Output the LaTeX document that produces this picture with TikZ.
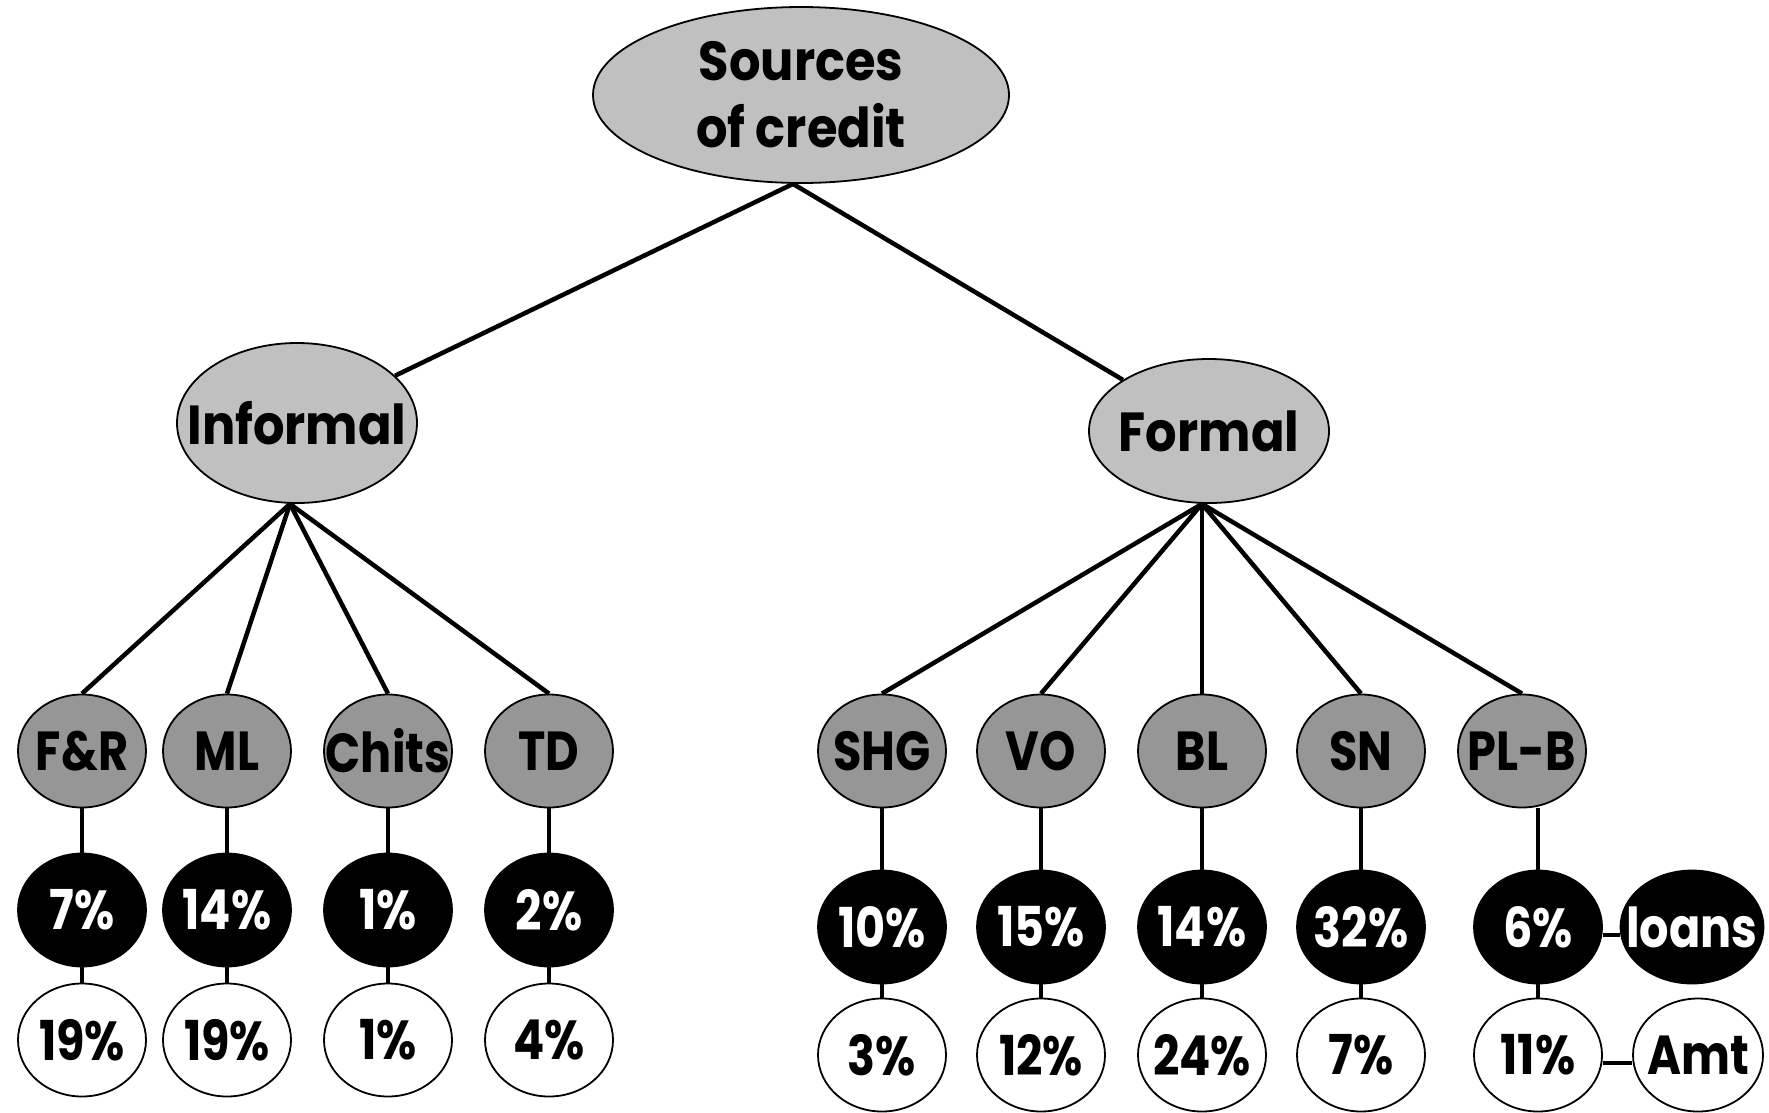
\documentclass[tikz,border=0pt]{standalone}
\usepackage{fontspec}
\setmainfont{Poppins}[FakeStretch=0.9]
\newfontfamily\condfont{Poppins}[FakeStretch=0.84]
\usetikzlibrary{shapes.geometric}
\definecolor{lgray}{HTML}{C0C0C0}
\definecolor{mgray}{HTML}{969696}
\newcommand\ct[1]{\makebox[0pt]{#1}}
\begin{document}
\begin{tikzpicture}[x=1pt,y=-1pt,
  oval/.style={ellipse, draw=black, line width=1.8pt, inner sep=0pt,
    font=\bfseries\fontsize{55}{67}\selectfont},
  topoval/.style={oval, fill=lgray, minimum width=416pt, minimum height=176pt, align=center},
  midoval/.style={oval, fill=lgray, minimum width=240pt},
  leafoval/.style={oval, minimum width=128pt, minimum height=113pt,
    font=\condfont\bfseries\fontsize{55}{60}\selectfont},
  greyoval/.style={leafoval, fill=mgray},
  blackoval/.style={leafoval, fill=black, text=white},
  whiteoval/.style={leafoval, fill=white},
  conn/.style={line width=4.5pt}
]
\useasboundingbox (0,0) rectangle (1769,1112);

% top levels
\node[topoval] (root) at (801,95) {Sources\\of credit};
\node[midoval, minimum height=160pt] (inf) at (297,423) {\ct{Informal}};
\node[midoval, minimum height=144pt] (form) at (1209,431) {\ct{Formal}};

% informal branch
\node[greyoval] (fr) at (82,751) {\ct{F\&R}};
\node[greyoval] (ml) at (227,751) {\ct{ML}};
\node[greyoval] (ch) at (388,751) {\ct{Chits}};
\node[greyoval] (td) at (549,751) {\ct{TD}};
\node[blackoval] (frb) at (82,910) {\ct{7\%}};
\node[blackoval] (mlb) at (227,910) {\ct{14\%}};
\node[blackoval] (chb) at (388,910) {\ct{1\%}};
\node[blackoval] (tdb) at (549,910) {\ct{2\%}};
\node[whiteoval] (frw) at (82,1040) {\ct{19\%}};
\node[whiteoval] (mlw) at (227,1040) {\ct{19\%}};
\node[whiteoval] (chw) at (388,1040) {\ct{1\%}};
\node[whiteoval] (tdw) at (549,1040) {\ct{4\%}};

% formal branch
\node[greyoval] (shg) at (882,751) {\ct{SHG}};
\node[greyoval] (vo) at (1041,751) {\ct{VO}};
\node[greyoval] (bl) at (1202,751) {\ct{BL}};
\node[greyoval] (sn) at (1361,751) {\ct{SN}};
\node[greyoval] (plb) at (1522,751) {\ct{PL-B}};
\node[blackoval] (shgb) at (882,927) {\ct{10\%}};
\node[blackoval] (vob) at (1041,927) {\ct{15\%}};
\node[blackoval] (blb) at (1202,927) {\ct{14\%}};
\node[blackoval] (snb) at (1361,927) {\ct{32\%}};
\node[blackoval] (plbb) at (1538,927) {\ct{6\%}};
\node[blackoval, minimum width=143pt] (loans) at (1692,927) {\ct{loans}};
\node[whiteoval] (shgw) at (882,1055) {\ct{3\%}};
\node[whiteoval] (vow) at (1041,1055) {\ct{12\%}};
\node[whiteoval] (blw) at (1202,1055) {\ct{24\%}};
\node[whiteoval] (snw) at (1361,1055) {\ct{7\%}};
\node[whiteoval] (plbw) at (1538,1055) {\ct{11\%}};
\node[whiteoval, minimum width=130pt] (amt) at (1698,1055) {\ct{Amt}};

% connectors
\coordinate (rootapex) at ([xshift=-8pt]root.south);
\coordinate (infapex) at ([xshift=-7pt]inf.south);
\coordinate (formapex) at ([xshift=-7pt]form.south);
\draw[conn] (rootapex) -- (inf);
\draw[conn] (rootapex) -- (form);
\foreach \n in {fr,ml,ch,td} {
  \draw[conn] (infapex) -- (\n.north);
  \draw[conn] (\n.south) -- (\n b.north);
  \draw[conn] (\n b.south) -- (\n w.north);
}
\foreach \n in {shg,vo,bl,sn} {
  \draw[conn] (formapex) -- (\n.north);
  \draw[conn] (\n.south) -- (\n b.north);
  \draw[conn] (\n b.south) -- (\n w.north);
}
\draw[conn] (formapex) -- (plb.north);
\draw[conn] (plbb.north) -- (plbb.north |- plb.south);
\draw[conn] (plbb.south) -- (plbw.north);
\draw[conn] ([yshift=-8pt]plbb.east) -- ([yshift=-8pt]loans.west);
\draw[conn] ([yshift=-8pt]plbw.east) -- ([yshift=-8pt]amt.west);
\end{tikzpicture}
\end{document}
